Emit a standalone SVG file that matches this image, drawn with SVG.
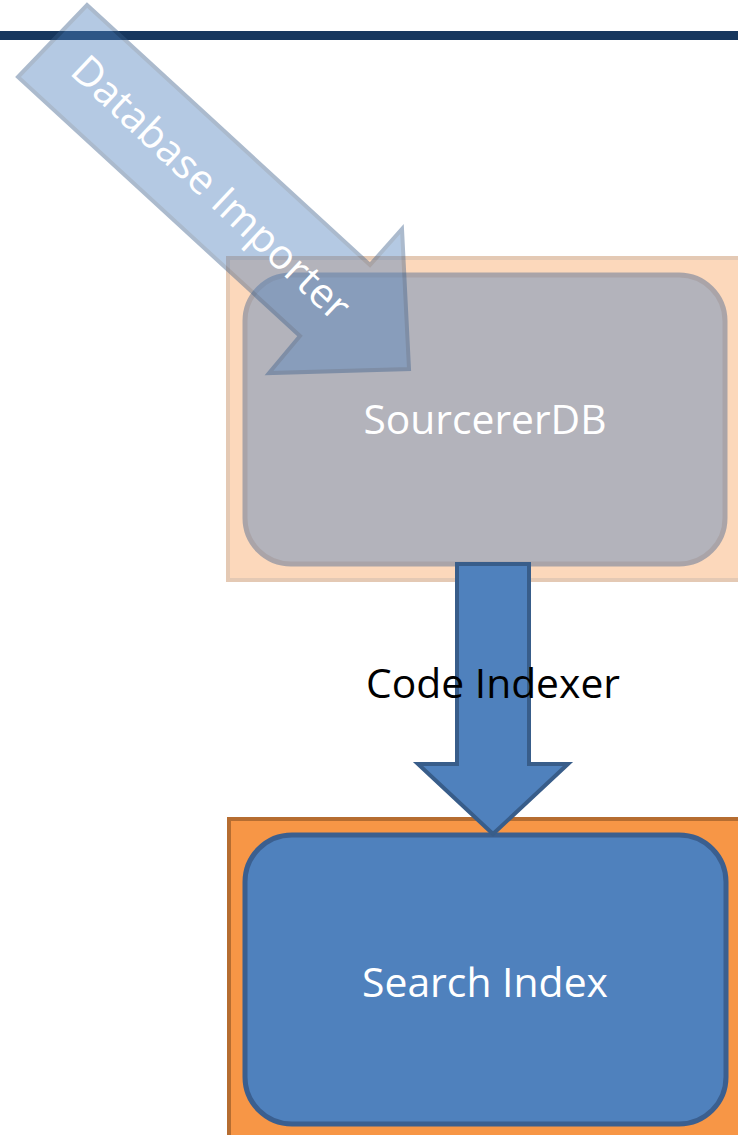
<svg xmlns="http://www.w3.org/2000/svg" width="738" height="1135" viewBox="0 0 738 1135">
  <style>
    .lbl { font-family: "Open Sans", "Liberation Sans", sans-serif; font-size: 41px; }
    .white { fill: #ffffff; }
    .black { fill: #000000; }
    .frame { fill: #f79646; stroke: #b66d31; stroke-width: 4; }
    .box { fill: #4f81bd; stroke: #3b5f8f; stroke-width: 5; }
    .arrow { fill: #4f81bd; stroke: #385d8a; stroke-width: 4; stroke-linejoin: miter; }
    .faded-frame { opacity: 0.36; }
    .faded-box { opacity: 0.42; }
  </style>
  <rect x="0" y="0" width="738" height="1135" fill="#ffffff"/>
  <rect id="top-bar" x="0" y="31" width="738" height="9" fill="#17375e"/>

  <g id="sourcererdb">
    <rect class="frame faded-frame" x="228" y="258" width="520" height="322"/>
    <rect class="box faded-box" x="245" y="275" width="480" height="289" rx="46"/>
    <text class="lbl white" x="485" y="434" text-anchor="middle" textLength="243" lengthAdjust="spacingAndGlyphs">SourcererDB</text>
  </g>

  <g id="search-index">
    <rect class="frame" x="229" y="819" width="520" height="330"/>
    <rect class="box" x="245" y="835" width="481" height="289" rx="47"/>
    <text class="lbl white" x="485" y="997" text-anchor="middle" textLength="246" lengthAdjust="spacingAndGlyphs">Search Index</text>
  </g>

  <g id="connectors">
    <g id="database-importer">
      <polygon class="arrow" opacity="0.42" points="87,5 370,265 402,229 409,369 269,373 300,336 18,77"/>
      <text class="lbl white" transform="translate(211,188) rotate(43.2)" x="0" y="14" text-anchor="middle" textLength="365" lengthAdjust="spacingAndGlyphs">Database Importer</text>
    </g>
    <g id="code-indexer">
      <polygon class="arrow" points="457,564 529,564 529,764 568,764 493,834 418,764 457,764"/>
      <text class="lbl black" x="493" y="698" text-anchor="middle" textLength="254" lengthAdjust="spacingAndGlyphs">Code Indexer</text>
    </g>
  </g>
</svg>
